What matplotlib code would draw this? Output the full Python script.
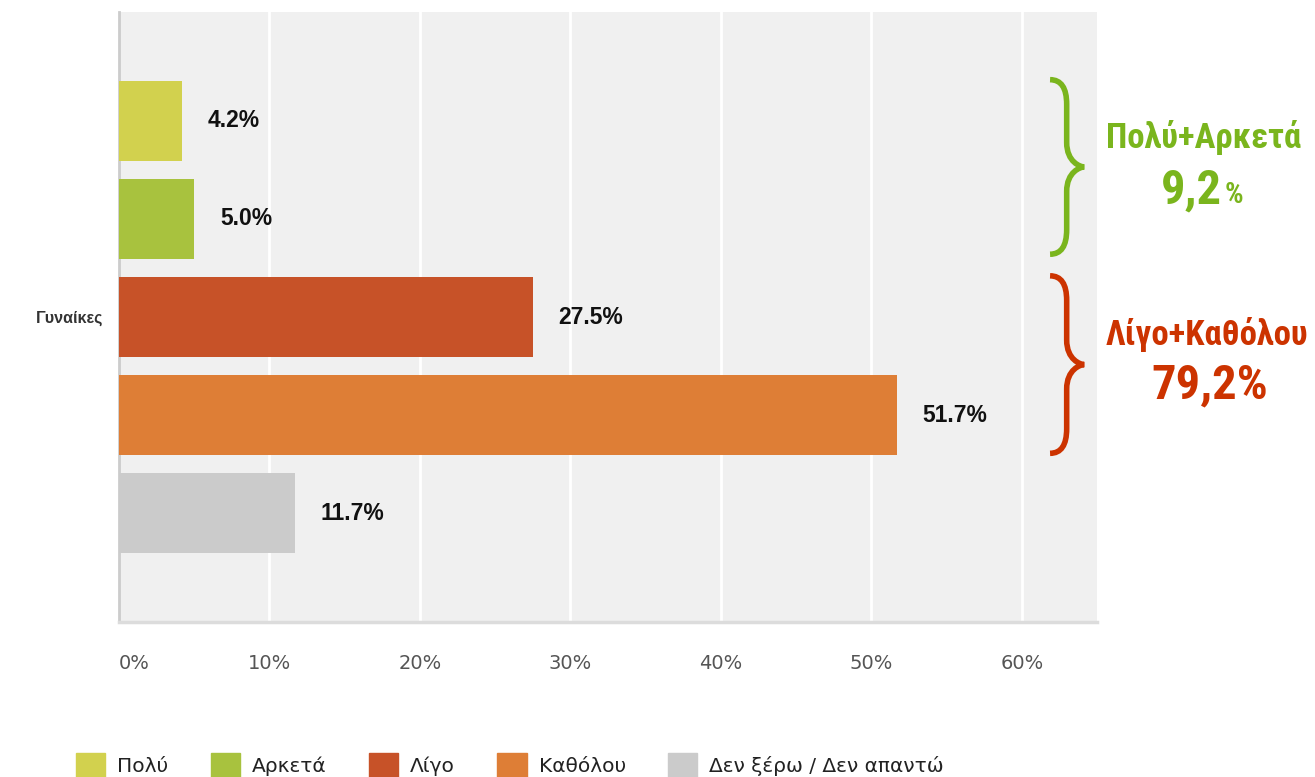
import matplotlib
matplotlib.use("Agg")
import matplotlib.pyplot as plt
from matplotlib.patches import Patch, PathPatch
from matplotlib.path import Path
import matplotlib.transforms as mtransforms

# data
categories = ['Πολύ', 'Αρκετά', 'Λίγο', 'Καθόλου', 'Δεν ξέρω / Δεν απαντώ']
values = [4.2, 5.0, 27.5, 51.7, 11.7]
colors = ['#d2d14e', '#a8c23e', '#c75228', '#de7e36', '#cbcbcb']
group_label = 'Γυναίκες'
xticks = [0, 10, 20, 30, 40, 50, 60]

narrow = ['Roboto Condensed', 'Fira Sans Condensed', 'DejaVu Sans']
arial = ['Liberation Sans', 'DejaVu Sans']

fig = plt.figure(figsize=(13.15, 7.77), dpi=100)
ax = fig.add_axes([119 / 1315, 1 - 622 / 777, 978 / 1315, 610 / 777])
ax.set_facecolor('#f0f0f0')

ypos = list(range(len(values)))
bars = ax.barh(ypos, values, height=0.82, color=colors, zorder=3)
ax.set_ylim(5.11, -1.11)
ax.set_xlim(0, 65)

for x in xticks[1:]:
    ax.axvline(x, color='white', lw=2, zorder=1)

ax.bar_label(bars, labels=[f'{v:.1f}%' for v in values], padding=18.5,
             fontsize=16.5, fontweight='bold', color='#111111', family=arial)

ax.set_xticks(xticks)
ax.set_xticklabels([f'{x}%' for x in xticks], fontsize=14, color='#555555')
ax.tick_params(axis='x', length=0, pad=23)
ax.get_xticklabels()[0].set_ha('left')

ax.set_yticks([2])
ax.set_yticklabels([group_label], fontsize=11.5, fontweight='bold', color='#333333',
                   family=arial)
ax.tick_params(axis='y', length=0, pad=11.5)

for s in ['top', 'right']:
    ax.spines[s].set_visible(False)
ax.spines['left'].set_color('#cccccc')
ax.spines['left'].set_linewidth(2)
ax.spines['bottom'].set_color('#dcdcdc')
ax.spines['bottom'].set_linewidth(2.5)


def brace(ax, y_top, y_bot, color):
    # x in axes fraction, y in data
    trans = mtransforms.blended_transform_factory(ax.transAxes, ax.transData)
    x0, xm, x1 = 0.952, 0.969, 0.987
    ym = (y_top + y_bot) / 2
    r = 0.25
    verts = [(x0, y_top), (xm, y_top), (xm, y_top + r),
             (xm, ym - r),
             (xm, ym - 0.05), (x1 - 0.004, ym), (x1, ym),
             (x1 - 0.004, ym), (xm, ym + 0.05), (xm, ym + r),
             (xm, y_bot - r),
             (xm, y_bot), (x0, y_bot)]
    codes = [Path.MOVETO, Path.CURVE3, Path.CURVE3,
             Path.LINETO,
             Path.CURVE4, Path.CURVE4, Path.CURVE4,
             Path.CURVE4, Path.CURVE4, Path.CURVE4,
             Path.LINETO,
             Path.CURVE3, Path.CURVE3]
    p = PathPatch(Path(verts, codes), fill=False, edgecolor=color, lw=4,
                  transform=trans, clip_on=False, zorder=5, capstyle='butt',
                  joinstyle='miter')
    ax.add_patch(p)


green = '#7ab51d'
red = '#cc3300'
brace(ax, 0 - 0.42, 1 + 0.36, green)
brace(ax, 2 - 0.42, 3 + 0.39, red)

pos_sum = values[0] + values[1]
neg_sum = values[2] + values[3]

fig.text(1204 / 1315, 1 - 148 / 777, 'Πολύ+Αρκετά', ha='center', va='baseline',
         fontsize=25, fontweight='bold', color=green, family=narrow)
fig.text(1222 / 1315, 1 - 203 / 777, f'{pos_sum:.1f}'.replace('.', ','), ha='right',
         va='baseline', fontsize=35, fontweight='bold', color=green, family=narrow)
fig.text(1225 / 1315, 1 - 203 / 777, '%', ha='left',
         va='baseline', fontsize=21, fontweight='bold', color=green, family=narrow)

fig.text(1207 / 1315, 1 - 345 / 777, 'Λίγο+Καθόλου', ha='center', va='baseline',
         fontsize=25, fontweight='bold', color=red, family=narrow)
fig.text(1210 / 1315, 1 - 398 / 777, f'{neg_sum:.1f}'.replace('.', ',') + '%', ha='center',
         va='baseline', fontsize=35, fontweight='bold', color=red, family=narrow)

handles = [Patch(facecolor=c, edgecolor=c) for c in colors]
fig.legend(handles, categories, loc='center left',
           bbox_to_anchor=(76 / 1315, 1 - 765 / 777), ncol=5, frameon=False,
           handlelength=1.45, handleheight=1.43, handletextpad=0.6,
           columnspacing=2.1, borderpad=0, borderaxespad=0,
           prop={'family': ['DejaVu Sans'], 'size': 14.5})
for t in fig.legends[0].get_texts():
    t.set_color('#222222')

fig.savefig('out.png', dpi=100)
